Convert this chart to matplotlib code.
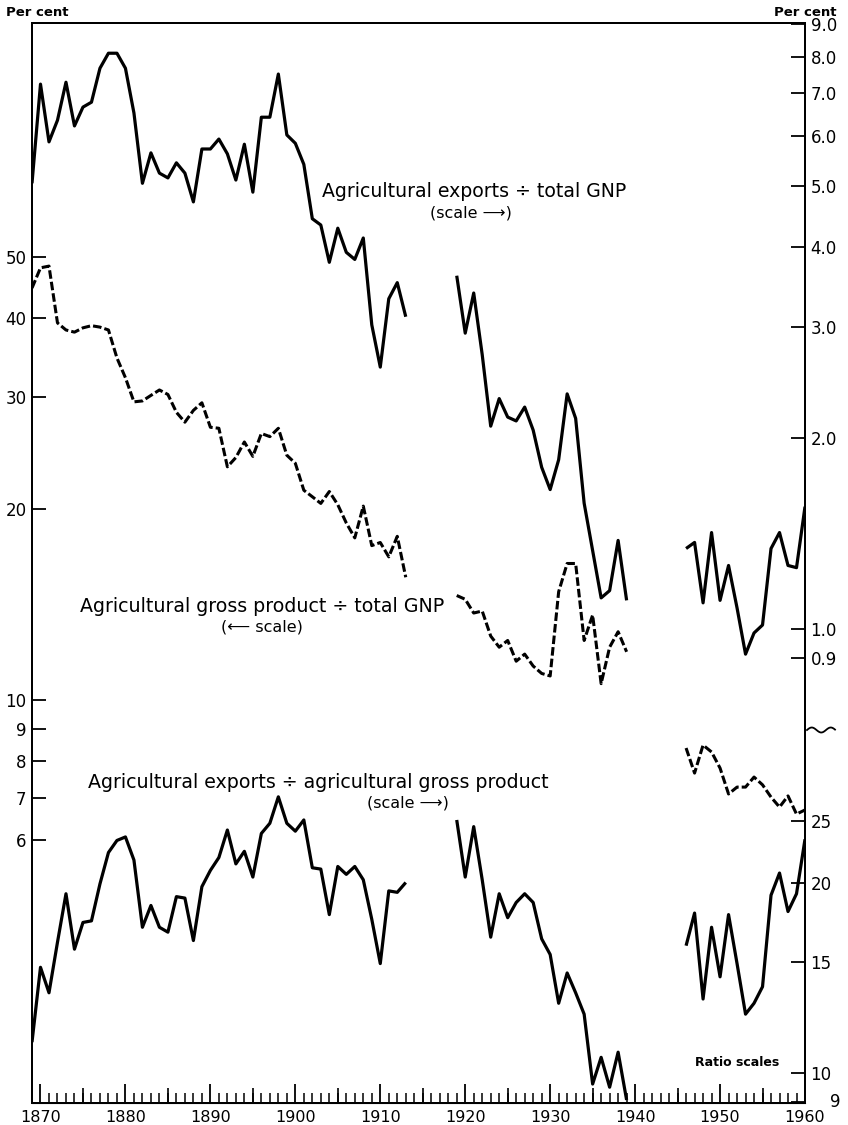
import numpy as np
import matplotlib
matplotlib.use("Agg")
import matplotlib.pyplot as plt
from matplotlib.ticker import FixedLocator, NullLocator, FuncFormatter, MultipleLocator
from matplotlib.lines import Line2D

plt.rcParams['font.family'] = ['DejaVu Sans']

# years of each segment (gaps: war years)
yrs1 = np.arange(1869, 1914)
yrs2 = np.arange(1919, 1940)
yrs3 = np.arange(1946, 1961)

# Agricultural exports / total GNP, per cent (upper right scale)
exp_gnp_1 = [5.05, 7.24, 5.87, 6.35, 7.29, 6.22, 6.66, 6.78, 7.67, 8.10,
             8.10, 7.67, 6.52, 5.05, 5.64, 5.24, 5.15, 5.44, 5.24, 4.72,
             5.72, 5.72, 5.93, 5.62, 5.11, 5.82, 4.89, 6.42, 6.42, 7.51,
             6.02, 5.84, 5.41, 4.44, 4.34, 3.79, 4.29, 3.93, 3.83, 4.14,
             3.02, 2.59, 3.32, 3.52, 3.11]
exp_gnp_2 = [3.61, 2.93, 3.39, 2.71, 2.09, 2.31, 2.16, 2.13, 2.24, 2.06,
             1.80, 1.66, 1.85, 2.35, 2.15, 1.58, 1.33, 1.12, 1.15, 1.38,
             1.11]
exp_gnp_3 = [1.34, 1.37, 1.10, 1.42, 1.11, 1.26, 1.08, 0.913, 0.986, 1.015,
             1.34, 1.42, 1.26, 1.25, 1.56]

# Agricultural gross product / total GNP, per cent (left scale)
agp_gnp_1 = [44.6, 48.0, 48.3, 39.3, 38.3, 38.0, 38.6, 38.9, 38.7, 38.3,
             34.6, 32.2, 29.5, 29.6, 30.2, 30.8, 30.3, 28.4, 27.4, 28.6,
             29.4, 26.9, 26.8, 23.3, 24.1, 25.5, 24.2, 26.3, 26.0, 26.8,
             24.3, 23.6, 21.4, 20.9, 20.4, 21.3, 20.3, 19.0, 18.0, 20.2,
             17.5, 17.7, 16.8, 18.1, 15.6]
agp_gnp_2 = [14.6, 14.4, 13.7, 13.8, 12.6, 12.1, 12.4, 11.5, 11.8, 11.3,
             11.0, 10.9, 14.8, 16.4, 16.4, 12.4, 13.6, 10.6, 12.1, 12.8,
             11.9]
agp_gnp_3 = [8.39, 7.66, 8.48, 8.27, 7.80, 7.10, 7.28, 7.28, 7.55, 7.34,
             7.02, 6.77, 7.05, 6.60, 6.70]

# Agricultural exports / agricultural gross product, per cent (lower right scale)
exp_agp_1 = [11.2, 14.7, 13.4, 16.1, 19.2, 15.7, 17.3, 17.4, 19.9, 22.3,
             23.3, 23.6, 21.7, 17.0, 18.4, 17.0, 16.7, 19.0, 18.9, 16.2,
             19.7, 20.9, 21.9, 24.2, 21.4, 22.4, 20.4, 23.9, 24.8, 27.3,
             24.8, 24.1, 25.1, 21.1, 21.0, 17.8, 21.2, 20.6, 21.2, 20.2,
             17.5, 14.9, 19.4, 19.3, 20.0]
exp_agp_2 = [25.1, 20.4, 24.5, 20.2, 16.4, 19.2, 17.6, 18.6, 19.2, 18.6,
             16.3, 15.4, 12.9, 14.4, 13.4, 12.4, 9.62, 10.6, 9.51, 10.8,
             9.08]
exp_agp_3 = [15.9, 17.9, 13.1, 17.0, 14.2, 17.8, 14.9, 12.4, 12.9, 13.7,
             19.1, 20.7, 18.0, 19.2, 23.4]

left_ticks = [6, 7, 8, 9, 10, 20, 30, 40, 50]
right_up_ticks = [0.9, 1, 2, 3, 4, 5, 6, 7, 8, 9]
right_low_ticks = [9, 10, 15, 20, 25]

W, H = 848, 1125
fig = plt.figure(figsize=(W / 100, H / 100), dpi=100)
ax = fig.add_axes([32 / W, 22 / H, 773 / W, 1080 / H])
ax2 = ax.twinx()
ax3 = ax.twinx()

lw = 2.3
dash = (0, (2.8, 1.0))
for a in (ax, ax2, ax3):
    a.set_yscale('log')
    a.yaxis.set_minor_locator(NullLocator())
    for s in a.spines.values():
        s.set_linewidth(1.3)

# lines
for yrs, vals in [(yrs1, exp_gnp_1), (yrs2, exp_gnp_2), (yrs3, exp_gnp_3)]:
    ax2.plot(yrs, vals, color='black', lw=lw, solid_capstyle='butt')
for yrs, vals in [(yrs1, agp_gnp_1), (yrs2, agp_gnp_2), (yrs3, agp_gnp_3)]:
    ax.plot(yrs, vals, color='black', lw=lw - 0.1, ls=dash)
for yrs, vals in [(yrs1, exp_agp_1), (yrs2, exp_agp_2), (yrs3, exp_agp_3)]:
    ax3.plot(yrs, vals, color='black', lw=lw, solid_capstyle='butt')

ax.set_xlim(1869, 1960)
ax.set_ylim(2.311, 116.8)
ax2.set_ylim(0.1788, 9.04)
ax3.set_ylim(8.98, 453.6)

# left scale
ax.yaxis.set_major_locator(FixedLocator(left_ticks))
ax.yaxis.set_major_formatter(FuncFormatter(lambda v, p: '%d' % round(v)))
ax.tick_params(axis='y', direction='in', length=10, width=1.3, labelsize=12, pad=4)

# right scales
ax2.yaxis.set_major_locator(FixedLocator(right_up_ticks))
ax2.yaxis.set_major_formatter(FuncFormatter(lambda v, p: '%.1f' % v))
ax2.tick_params(axis='y', direction='in', length=10, width=1.3, labelsize=12, pad=4)
ax3.yaxis.set_major_locator(FixedLocator(right_low_ticks))
# bottom "9" is set off to the right of the 1960 label, drawn separately below
ax3.yaxis.set_major_formatter(FuncFormatter(lambda v, p: '' if v < 9.5 else '%d' % round(v)))
ax3.tick_params(axis='y', direction='in', length=10, width=1.3, labelsize=12, pad=4)

# years axis: decades long, 5-yr medium, yearly short
ax.xaxis.set_major_locator(MultipleLocator(10))
ax.xaxis.set_minor_locator(MultipleLocator(1))
ax.xaxis.set_major_formatter(FuncFormatter(lambda v, p: '%d' % v))
ax.tick_params(axis='x', which='major', direction='in', length=14, width=1.3,
               labelsize=11.5, pad=5)
ax.tick_params(axis='x', which='minor', direction='in', length=7, width=1.1)
sec = ax.secondary_xaxis('bottom')
sec.set_xticks(np.arange(1875, 1960, 10))
sec.xaxis.set_minor_locator(NullLocator())
sec.tick_params(axis='x', direction='in', length=10.5, width=1.2, labelbottom=False)

# labels
def fx(x):
    return x / W

def fy(y):
    return 1 - y / H

fig.text(fx(835), fy(1102), '9', ha='center', va='center', fontsize=12)

fig.text(fx(474), fy(197), 'Agricultural exports \u00f7 total GNP', ha='center',
         va='baseline', fontsize=13.6)
fig.text(fx(471), fy(217), '(scale \u27f6)', ha='center', va='baseline', fontsize=11.5)
fig.text(fx(262), fy(612), 'Agricultural gross product \u00f7 total GNP', ha='center',
         va='baseline', fontsize=13.7)
fig.text(fx(262), fy(632), '(\u27f5 scale)', ha='center', va='baseline', fontsize=11.5)
fig.text(fx(318), fy(788), 'Agricultural exports \u00f7 agricultural gross product',
         ha='center', va='baseline', fontsize=13.7)
fig.text(fx(408), fy(808), '(scale \u27f6)', ha='center', va='baseline', fontsize=11.5)
fig.text(fx(737), fy(1063), 'Ratio scales', ha='center', va='center', fontsize=9,
         fontweight='bold')
fig.text(fx(6), fy(13), 'Per cent', ha='left', va='center', fontsize=9.5, fontweight='bold')
fig.text(fx(836), fy(12), 'Per cent', ha='right', va='center', fontsize=9.5,
         fontweight='bold')

# scale break mark on the right axis
sx = np.linspace(807, 835, 40)
sy = 730 - 2.5 * np.sin(2 * np.pi * (sx - 807) / 19)
fig.add_artist(Line2D(fx(sx), fy(sy), color='black', lw=1.3))

fig.savefig('out.png', dpi=100, facecolor='white')
